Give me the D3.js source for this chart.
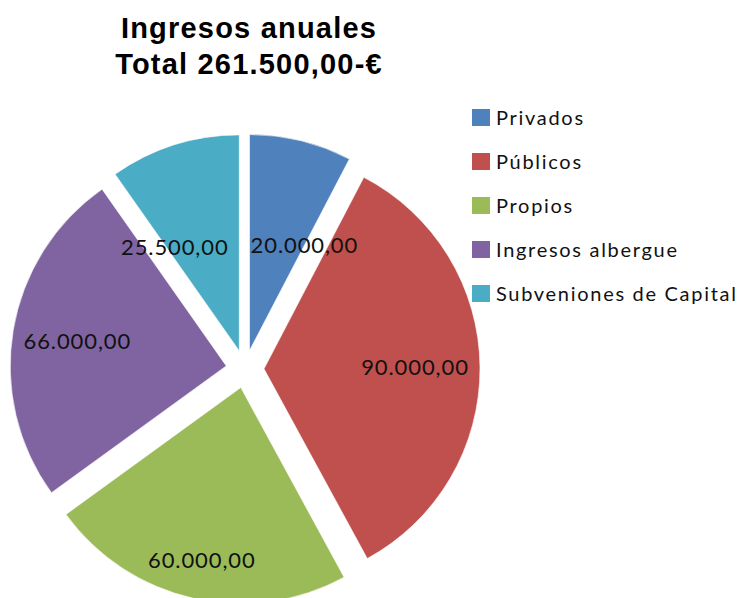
<!DOCTYPE html>
<html>
<head>
<meta charset="utf-8">
<script src="https://cdn.jsdelivr.net/npm/d3@7"></script>
<style>
  body { margin: 0; background: #fff; }
  svg { display: block; }
</style>
</head>
<body>
<div class="chart"></div>
<script>
// data
const categories = ["Privados", "Públicos", "Propios", "Ingresos albergue", "Subveniones de Capital"];
const values = [20000, 90000, 60000, 66000, 25500];
const colors = ["#4F81BD", "#C0504D", "#9BBB59", "#8064A2", "#4BACC6"];
const titleLines = ["Ingresos anuales", "Total 261.500,00-€"];

const width = 740, height = 598;
const cx = 245, cy = 369, radius = 216, explode = 19;

const locale = d3.formatLocale({ decimal: ",", thousands: ".", grouping: [3], currency: ["", "€"] });
const fmt = locale.format(",.2f");

const svg = d3.select(".chart").append("svg")
    .attr("width", width)
    .attr("height", height);

// title
svg.append("g")
    .selectAll("text")
    .data(titleLines)
    .join("text")
    .attr("x", 249)
    .attr("y", (d, i) => 38 + i * 36)
    .attr("text-anchor", "middle")
    .style("font-family", "'Liberation Sans', Arial, sans-serif")
    .style("font-weight", "bold")
    .style("font-size", "29px")
    .style("letter-spacing", "1.2px")
    .text(d => d);

const pie = d3.pie().sort(null).value(d => d);
const arcs = pie(values);
const arc = d3.arc().innerRadius(0).outerRadius(radius);

function dir(a) {
    const m = (a.startAngle + a.endAngle) / 2;
    return [Math.sin(m), -Math.cos(m)];
}

const slices = svg.append("g")
    .attr("transform", `translate(${cx},${cy})`);

slices.selectAll("path")
    .data(arcs)
    .join("path")
    .attr("transform", d => {
        const u = dir(d);
        return `translate(${u[0] * explode},${u[1] * explode})`;
    })
    .attr("d", arc)
    .attr("fill", (d, i) => colors[i])
    .attr("stroke", "#fff")
    .attr("stroke-width", 0.6);

// data labels
const labels = slices.selectAll("text.val")
    .data(arcs)
    .join("text")
    .attr("class", "val")
    .attr("text-anchor", "middle")
    .attr("dy", "0.35em")
    .style("font-family", "Lato, sans-serif")
    .style("font-size", "22px")
    .style("letter-spacing", "0.9px")
    .style("fill", "#111")
    .text(d => fmt(d.value));

// try to put the label far out inside its slice, otherwise near the centre
const margin = 10, rho0 = 117;
const pos = [];
labels.each(function(d) {
    const bb = this.getBBox();
    const w = bb.width, h = bb.height * 0.8;
    const u = dir(d);
    const corners = (x, y) => [[x - w / 2, y - h / 2], [x + w / 2, y - h / 2], [x - w / 2, y + h / 2], [x + w / 2, y + h / 2]];
    let placed = null;
    for (let r = radius; r > 0; r -= 1) {
        // relative to the exploded apex
        const x = u[0] * (r - explode), y = u[1] * (r - explode);
        const cs = corners(x, y);
        if (cs.every(c => Math.hypot(c[0], c[1]) <= radius - margin)) {
            const inside = cs.every(c => {
                let a = Math.atan2(c[0], -c[1]);
                if (a < 0) a += 2 * Math.PI;
                return a >= d.startAngle && a <= d.endAngle;
            });
            if (inside) placed = { x: x + u[0] * explode, y: y + u[1] * explode };
            break;
        }
    }
    if (placed) {
        pos.push({ x: placed.x, y: placed.y, w: w, h: h, fixed: true });
    } else {
        pos.push({
            x: u[0] * rho0 + u[0] * w / 2,
            y: u[1] * rho0 + u[1] * h / 2,
            w: w, h: h, fixed: false
        });
    }
});
// push overlapping labels apart horizontally
const gap = 22;
for (let k = 0; k < 10; k++) {
    for (let i = 0; i < pos.length; i++) {
        for (let j = i + 1; j < pos.length; j++) {
            const a = pos[i], b = pos[j];
            if (a.fixed || b.fixed) continue;
            const need = (a.w + b.w) / 2 + gap;
            const dx = b.x - a.x;
            if (Math.abs(dx) < need && Math.abs(b.y - a.y) < (a.h + b.h) / 2) {
                const s = dx >= 0 ? 1 : -1;
                const push = (need - Math.abs(dx)) / 2;
                a.x -= s * push;
                b.x += s * push;
            }
        }
    }
}
labels.attr("x", (d, i) => pos[i].x).attr("y", (d, i) => pos[i].y);

// legend
const legend = svg.append("g")
    .attr("transform", "translate(472,109)");

const item = legend.selectAll("g")
    .data(categories)
    .join("g")
    .attr("transform", (d, i) => `translate(0,${i * 44})`);

item.append("rect")
    .attr("width", 18)
    .attr("height", 17)
    .attr("fill", (d, i) => colors[i]);

item.append("text")
    .attr("x", 24)
    .attr("y", 8.5)
    .attr("dy", "0.35em")
    .style("font-family", "Lato, sans-serif")
    .style("font-size", "20px")
    .style("letter-spacing", "1.7px")
    .style("fill", "#111")
    .text(d => d);
</script>
</body>
</html>
